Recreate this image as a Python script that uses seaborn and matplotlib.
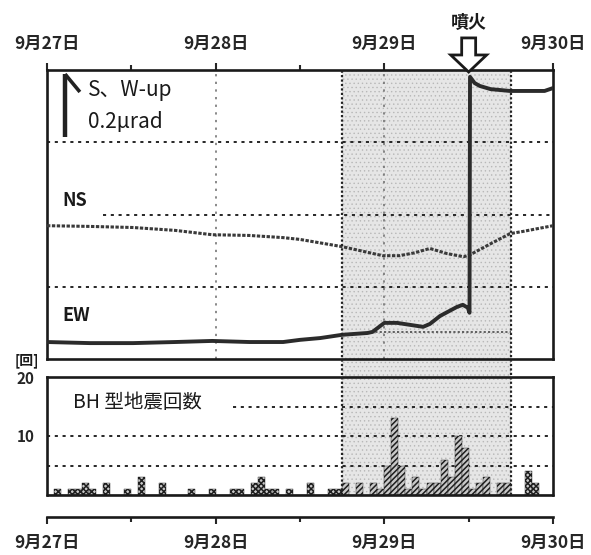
import numpy as np
import pandas as pd
import seaborn as sns
import matplotlib.pyplot as plt
from matplotlib.patches import Rectangle, Polygon
from matplotlib.lines import Line2D
from matplotlib.transforms import blended_transform_factory

sns.set_style("white")
plt.rcParams['font.family'] = ['Noto Sans CJK JP', 'DejaVu Sans']

# Time is measured in days from 9/27 00:00
day_labels = ["9月27日", "9月28日", "9月29日", "9月30日"]
shade_start, shade_end = 1.75, 2.75
eruption_day = 2.5

# Tilt records (µrad, arbitrary offsets)
ns_day = [0.0, 0.255, 0.51, 0.76, 0.98, 1.20, 1.40, 1.50, 1.75, 1.885, 1.99,
          2.09, 2.18, 2.27, 2.37, 2.47, 2.51, 2.63, 2.745, 2.82, 3.0]
ns_tilt = [0.369, 0.367, 0.364, 0.356, 0.344, 0.342, 0.336, 0.331, 0.311, 0.297, 0.286,
           0.286, 0.294, 0.306, 0.292, 0.283, 0.289, 0.319, 0.347, 0.353, 0.369]

ew_day = [0.0, 0.255, 0.51, 0.76, 0.98, 1.20, 1.40, 1.50, 1.62, 1.75, 1.90, 1.93,
          2.00, 2.075, 2.23, 2.27, 2.33, 2.43, 2.465, 2.495, 2.505, 2.508,
          2.535, 2.565, 2.63, 2.745, 2.86, 2.95, 3.0]
ew_tilt = [0.047, 0.044, 0.044, 0.047, 0.050, 0.047, 0.047, 0.053, 0.058, 0.067, 0.072, 0.075,
           0.100, 0.100, 0.089, 0.097, 0.119, 0.144, 0.150, 0.142, 0.128, 0.781,
           0.764, 0.756, 0.747, 0.742, 0.742, 0.742, 0.750]

ew_ref_day = [1.92, 2.75]
ew_ref_tilt = [0.075, 0.075]

# Hourly counts of BH-type earthquakes (72 hours)
bh_counts = [0, 1, 0, 1, 1, 2, 1, 0, 2, 0, 0, 1, 0, 3, 0, 0, 2, 0, 0, 0, 1, 0, 0, 1,
             0, 0, 1, 1, 0, 2, 3, 1, 1, 0, 1, 0, 0, 2, 0, 0, 1, 1, 2, 0, 2, 0, 2, 1,
             5, 13, 5, 1, 3, 1, 2, 2, 6, 3, 10, 8, 1, 2, 3, 0, 2, 2, 0, 0, 4, 2, 0, 0]

W, H = 591, 555
fig = plt.figure(figsize=(W / 100, H / 100), dpi=100)
fig.patch.set_facecolor('white')


def box(x0, y0, x1, y1):
    return [x0 / W, 1 - y1 / H, (x1 - x0) / W, (y1 - y0) / H]


ax1 = fig.add_axes(box(47, 70, 553, 359))
ax2 = fig.add_axes(box(47, 377, 553, 495))
for ax in (ax1, ax2):
    ax.set_facecolor('none')
    for sp in ax.spines.values():
        sp.set_visible(True)
        sp.set_linewidth(1.9)
        sp.set_color('#1a1a1a')

grid_kw = dict(color='#262626', linewidth=1.4, linestyle=(0, (1.6, 2.4)), zorder=1)

# ---- Tilt panel ----
ax1.hlines(0.6, 0, 3, **grid_kw)
ax1.hlines(0.4, 0.33, 3, **grid_kw)
ax1.hlines(0.2, 0, 3, **grid_kw)
ax1.vlines([1, 2], 0, 0.8, color='#6a6a6a', linewidth=1.1,
           linestyle=(0, (1.5, 3.5)), zorder=1)

sns.lineplot(x=ns_day, y=ns_tilt, ax=ax1, color='#3a3a3a', linewidth=2.2,
             estimator=None, sort=False, linestyle=(0, (1.1, 0.5)), zorder=3)
sns.lineplot(x=ew_ref_day, y=ew_ref_tilt, ax=ax1, color='#555555', linewidth=1.3,
             estimator=None, sort=False, linestyle=(0, (1.2, 1.2)), zorder=3)
sns.lineplot(x=ew_day, y=ew_tilt, ax=ax1, color='#2b2b2b', linewidth=2.8,
             estimator=None, sort=False, zorder=4)
ax1.set_xlim(0, 3)
ax1.set_ylim(0, 0.8)

ax1.xaxis.tick_top()
ax1.set_xticks([0, 1, 2, 3])
ax1.set_xticklabels(day_labels, fontweight='bold', fontsize=12.5)
ax1.set_xticks([0.5, 1.5, 2.5], minor=True)
ax1.tick_params(axis='x', which='major', direction='out', length=5, width=1.5,
                pad=7, top=True, bottom=False, labeltop=True, labelbottom=False)
ax1.tick_params(axis='x', which='minor', direction='out', length=3.5, width=1.5,
                top=True, bottom=False)
ax1.set_yticks([])
ax1.set_xlabel('')
ax1.set_ylabel('')

# scale arrow
ax1.plot([0.0356, 0.0356], [0.768, 0.986], transform=ax1.transAxes,
         color='#222222', linewidth=3.2, solid_capstyle='butt', zorder=5)
ax1.plot([0.0356, 0.065], [0.986, 0.924], transform=ax1.transAxes,
         color='#222222', linewidth=2.6, solid_capstyle='butt', zorder=5)
ax1.text(0.081, 0.931, "S、W-up", transform=ax1.transAxes, fontsize=15,
         ha='left', va='center', color='#1a1a1a')
ax1.text(0.081, 0.820, "0.2μrad", transform=ax1.transAxes, fontsize=15,
         ha='left', va='center', color='#1a1a1a')
ax1.text(0.030, 0.550, "NS", transform=ax1.transAxes, fontsize=13,
         fontweight='bold', ha='left', va='center', color='#1a1a1a')
ax1.text(0.030, 0.149, "EW", transform=ax1.transAxes, fontsize=13,
         fontweight='bold', ha='left', va='center', color='#1a1a1a')

# eruption marker
tr = blended_transform_factory(ax1.transData, ax1.transAxes)
hs, hh = 0.0414, 0.1065
arrow = Polygon([(eruption_day, 0.993), (eruption_day - hh, 1.052),
                 (eruption_day - hs, 1.052), (eruption_day - hs, 1.111),
                 (eruption_day + hs, 1.111), (eruption_day + hs, 1.052),
                 (eruption_day + hh, 1.052)], closed=True, transform=tr,
                facecolor='white', edgecolor='#1a1a1a', linewidth=2,
                clip_on=False, zorder=6)
ax1.add_patch(arrow)
ax1.text(eruption_day, 1.166, "噴火", transform=tr, ha='center', va='center',
         fontsize=13, fontweight='bold', color='#1a1a1a', clip_on=False)

# ---- BH-type earthquake panel ----
plt.rcParams['hatch.linewidth'] = 1.1
bh = pd.DataFrame({
    "day": (np.arange(len(bh_counts)) + 0.5) / 24,
    "count": bh_counts,
})
sns.histplot(data=bh, x="day", weights="count", binwidth=1 / 24, binrange=(0, 3),
             ax=ax2, color='#c8c8c8', edgecolor='#1e1e1e', linewidth=0.3, alpha=1,
             zorder=3)
for p in ax2.patches:
    xc = p.get_x() + p.get_width() / 2
    p.set_hatch('//////' if shade_start <= xc <= shade_end else 'xxxxxx')

ax2.hlines(5, 0, 3, **grid_kw)
ax2.hlines(10, 0, 3, **grid_kw)
ax2.hlines(15, 1.10, 3, **grid_kw)
ax2.axhline(0, color='#1a1a1a', linewidth=1.9, clip_on=False, zorder=4)
ax2.set_xlim(0, 3)
ax2.set_ylim(0, 20)

ax2.set_yticks([10, 20])
ax2.set_yticklabels(['10', '20'], fontweight='bold', fontsize=11)
ax2.tick_params(axis='y', length=0, pad=9)
ax2.spines['bottom'].set_position(('outward', 16))
ax2.set_xticks([0, 1, 2, 3])
ax2.set_xticklabels(day_labels, fontweight='bold', fontsize=12.5)
ax2.set_xticks([0.5, 1.5, 2.5], minor=True)
ax2.tick_params(axis='x', which='major', direction='out', length=5, width=1.5,
                pad=7, bottom=True, top=False)
ax2.tick_params(axis='x', which='minor', direction='out', length=3.5, width=1.5,
                bottom=True, top=False)
ax2.set_xlabel('')
ax2.set_ylabel('')
ax2.text(-0.04, 1.136, "[回]", transform=ax2.transAxes, ha='center', va='center',
         fontsize=10, fontweight='bold', color='#1a1a1a')
ax2.text(0.051, 0.78, "BH 型地震回数", transform=ax2.transAxes, ha='left',
         va='center', fontsize=14, color='#1a1a1a')

# ---- Shaded period across both panels ----
plt.rcParams['hatch.linewidth'] = 0.5
ftr = blended_transform_factory(ax1.transData, fig.transFigure)
y_lo, y_hi = 1 - 495 / H, 1 - 70 / H
fig.add_artist(Rectangle((shade_start, y_lo), shade_end - shade_start, y_hi - y_lo,
                         transform=ftr, facecolor='#e6e6e6', edgecolor='#b8b8b8',
                         hatch='....', linewidth=0, zorder=-1))
for xv in (shade_start, shade_end):
    fig.add_artist(Line2D([xv, xv], [y_lo, y_hi], transform=ftr, color='#222222',
                          linewidth=1.6, linestyle=(0, (1, 1)), zorder=2))

fig.savefig("out.png", dpi=100)
